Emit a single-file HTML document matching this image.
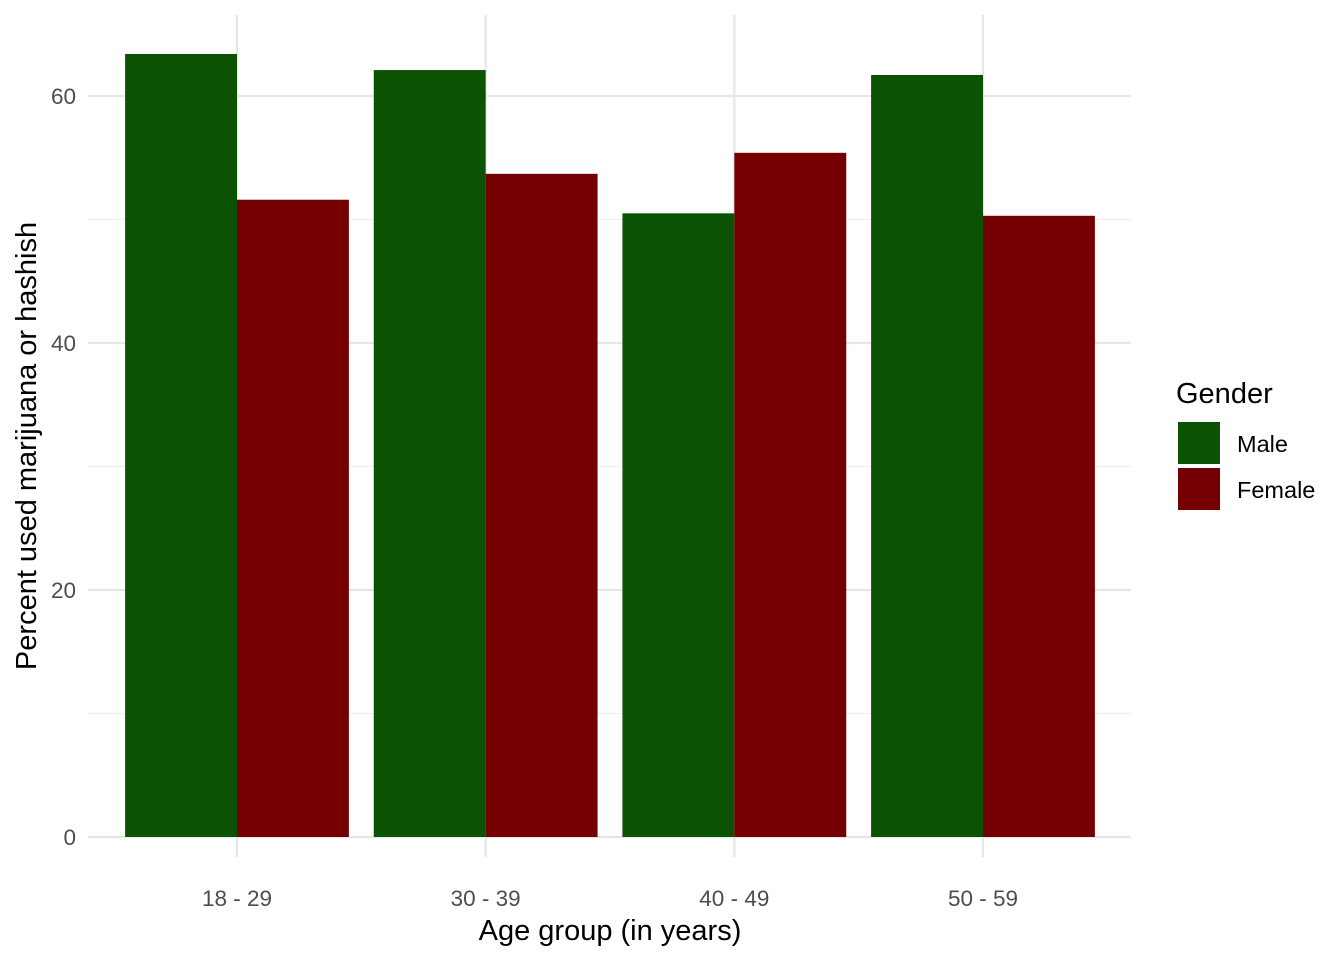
<!DOCTYPE html>
<html><head><meta charset="utf-8"><style>
body{margin:0;background:#fff;}
svg text{font-family:"Liberation Sans",Arial,sans-serif;}
</style></head><body>
<svg id="chart" width="1344" height="960">
<g id="grid"></g>
<g id="bars"></g>
<g id="axes"></g>
<text x="610" y="940" font-size="29" text-anchor="middle" fill="#000">Age group (in years)</text>
<text transform="translate(36,446) rotate(-90)" font-size="29" text-anchor="middle" fill="#000">Percent used marijuana or hashish</text>
<g>
<text x="1176" y="403" font-size="29" fill="#000">Gender</text>
<rect x="1178" y="422" width="42" height="42" fill="#0b5204"/>
<text x="1237" y="452" font-size="23.5" fill="#000">Male</text>
<rect x="1178" y="468" width="42" height="42" fill="#750002"/>
<text x="1237" y="498" font-size="23.5" fill="#000">Female</text>
</g>
</svg>
<script>
const categories=["18 - 29","30 - 39","40 - 49","50 - 59"];
const maleValues=[63.4,62.1,50.5,61.7];
const femaleValues=[51.6,53.7,55.4,50.3];
const yTicks=[0,20,40,60];
const yMinor=[10,30,50];
const NS="http://www.w3.org/2000/svg";
const px0=88,px1=1131,py0=15;
const y=v=>837-v*(741/60);
const step=(983-237)/3;
const xc=i=>237+step*i;
const bw=step*0.9/2;
function mk(tag,attrs,parent){const e=document.createElementNS(NS,tag);for(const k in attrs)e.setAttribute(k,attrs[k]);parent.appendChild(e);return e;}
const grid=document.getElementById('grid'),bars=document.getElementById('bars'),axes=document.getElementById('axes');
yMinor.forEach(v=>{const l=mk('line',{x1:px0,x2:px1,y1:y(v),y2:y(v),stroke:'#f0f0f0','stroke-width':1.2},grid);

});
yTicks.forEach(v=>{const l=mk('line',{x1:px0,x2:px1,y1:y(v),y2:y(v),stroke:'#e6e6e6','stroke-width':2.2},grid);


const t=mk('text',{x:76,y:y(v)+8,'font-size':22.5,'text-anchor':'end',fill:'#4d4d4d'},axes);t.textContent=v;

});
categories.forEach((c,i)=>{const l=mk('line',{x1:xc(i),x2:xc(i),y1:py0,y2:y(0)+20,stroke:'#e6e6e6','stroke-width':2.2},grid);


const m=mk('rect',{x:xc(i)-bw,y:y(maleValues[i]),width:bw,height:y(0)-y(maleValues[i]),fill:'#0b5204'},bars);


const f=mk('rect',{x:xc(i),y:y(femaleValues[i]),width:bw,height:y(0)-y(femaleValues[i]),fill:'#750002'},bars);


const t=mk('text',{x:xc(i),y:906,'font-size':22.5,'text-anchor':'middle',fill:'#4d4d4d'},axes);t.textContent=c;

});
</script>
</body></html>
